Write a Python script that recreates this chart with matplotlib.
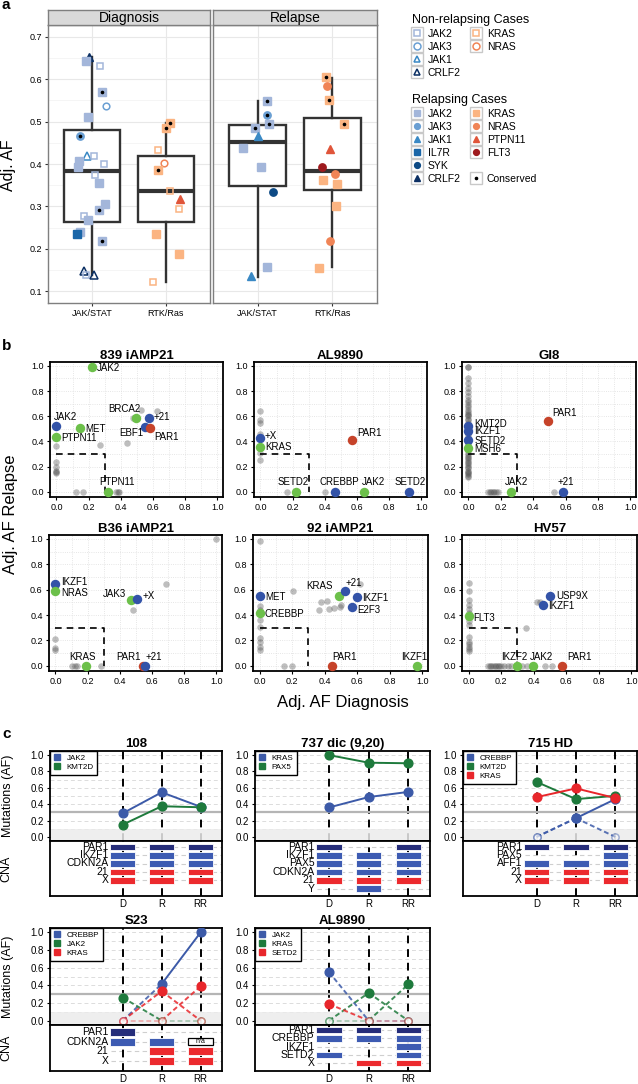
import matplotlib
matplotlib.use('Agg')
import matplotlib.pyplot as plt
from matplotlib.lines import Line2D
import numpy as np

plt.rcParams['font.family'] = ['Liberation Sans', 'DejaVu Sans']

W, H = 638, 1084

# ---------------- panel a data ----------------
a_facets = ['Diagnosis', 'Relapse']
a_groups = ['JAK/STAT', 'RTK/Ras']
# box statistics [facet][group]
a_whislo = [[0.137, 0.122], [0.134, 0.158]]
a_q1 = [[0.262, 0.264], [0.348, 0.339]]
a_med = [[0.384, 0.337], [0.452, 0.384]]
a_q3 = [[0.481, 0.419], [0.493, 0.508]]
a_whishi = [[0.652, 0.497], [0.548, 0.603]]

# (gene, relapsing case, conserved, adj. AF)
a_diag_jak = [('CRLF2', 1, 0, 0.652), ('JAK2', 1, 0, 0.644), ('JAK2', 0, 0, 0.631),
              ('JAK2', 1, 1, 0.570), ('JAK3', 0, 0, 0.537), ('JAK2', 1, 0, 0.512),
              ('JAK3', 1, 1, 0.467), ('JAK1', 0, 0, 0.420), ('JAK2', 0, 0, 0.419),
              ('JAK2', 1, 0, 0.407), ('JAK2', 1, 0, 0.394), ('JAK2', 0, 0, 0.400),
              ('JAK2', 0, 0, 0.373), ('JAK2', 1, 0, 0.354), ('JAK2', 1, 0, 0.306),
              ('JAK2', 1, 1, 0.291), ('JAK2', 0, 0, 0.277), ('JAK2', 1, 0, 0.268),
              ('JAK2', 1, 0, 0.239), ('IL7R', 1, 0, 0.234), ('JAK2', 1, 1, 0.218),
              ('CRLF2', 0, 0, 0.147), ('JAK2', 0, 0, 0.139), ('CRLF2', 0, 0, 0.138)]
a_diag_jak_jit = [-0.045, -0.09, 0.10, 0.14, 0.19, -0.06, -0.16, -0.07, 0.02, -0.18, -0.19, 0.16,
                  0.04, 0.09, 0.18, 0.09, -0.11, -0.06, -0.16, -0.20, 0.14, -0.11, -0.09, 0.03]
a_diag_ras = [('KRAS', 1, 1, 0.497), ('KRAS', 1, 1, 0.486), ('KRAS', 0, 0, 0.433),
              ('NRAS', 0, 0, 0.402), ('KRAS', 1, 1, 0.386), ('KRAS', 0, 0, 0.337),
              ('PTPN11', 1, 0, 0.317), ('KRAS', 0, 0, 0.293), ('KRAS', 1, 0, 0.235),
              ('KRAS', 1, 0, 0.188), ('KRAS', 0, 0, 0.121)]
a_diag_ras_jit = [0.06, 0.0, -0.11, -0.02, -0.10, 0.06, 0.19, 0.18, -0.14, 0.18, -0.17]
a_rel_jak = [('JAK2', 1, 1, 0.549), ('JAK3', 1, 1, 0.515), ('JAK2', 1, 1, 0.495),
             ('JAK2', 1, 1, 0.484), ('JAK1', 1, 0, 0.467), ('JAK2', 1, 0, 0.437),
             ('JAK2', 1, 0, 0.394), ('SYK', 1, 0, 0.333), ('JAK2', 1, 0, 0.156),
             ('JAK1', 1, 0, 0.135)]
a_rel_jak_jit = [0.13, 0.13, 0.15, -0.04, 0.01, -0.20, 0.04, 0.20, 0.12, -0.09]
a_rel_ras = [('KRAS', 1, 1, 0.605), ('NRAS', 1, 0, 0.583), ('KRAS', 1, 1, 0.552),
             ('KRAS', 1, 1, 0.494), ('PTPN11', 1, 0, 0.436), ('FLT3', 1, 0, 0.392),
             ('NRAS', 1, 0, 0.377), ('KRAS', 1, 0, 0.363), ('KRAS', 1, 0, 0.352),
             ('KRAS', 1, 0, 0.301), ('NRAS', 1, 0, 0.218), ('KRAS', 1, 0, 0.155)]
a_rel_ras_jit = [-0.09, -0.07, -0.05, 0.16, -0.03, -0.14, 0.04, -0.12, 0.06, 0.05, -0.03, -0.18]

gene_color = {'JAK2': '#a3b6da', 'JAK3': '#6a9fd3', 'JAK1': '#3a89c5', 'IL7R': '#1a66a8',
              'SYK': '#0d4a85', 'CRLF2': '#0b2f63', 'KRAS': '#fbb482', 'NRAS': '#f08456',
              'PTPN11': '#e0553a', 'FLT3': '#9e1a1e'}
gene_marker = {'JAK2': 's', 'JAK3': 'o', 'JAK1': '^', 'IL7R': 's', 'SYK': 'o', 'CRLF2': '^',
               'KRAS': 's', 'NRAS': 'o', 'PTPN11': '^', 'FLT3': 'o'}

# ---------------- panel b data ----------------
b_titles = ['839 iAMP21', 'AL9890', 'GI8', 'B36 iAMP21', '92 iAMP21', 'HV57']
b_genes = [
    ['JAK2', 'JAK2', 'MET', 'PTPN11', 'BRCA2', '+21', 'EBF1', 'PAR1', 'PTPN11'],
    ['+X', 'KRAS', 'PAR1', 'SETD2', 'CREBBP', 'JAK2', 'SETD2'],
    ['KMT2D', 'IKZF1', 'SETD2', 'MSH6', 'PAR1', 'JAK2', '+21'],
    ['IKZF1', 'NRAS', 'JAK3', '+X', 'KRAS', 'PAR1', '+21'],
    ['MET', 'CREBBP', 'KRAS', '+21', 'IKZF1', 'E2F3', 'PAR1', 'IKZF1'],
    ['USP9X', 'IKZF1', 'FLT3', 'IKZF2', 'JAK2', 'PAR1'],
]
b_kind = [
    ['SNV', 'CNA', 'SNV', 'SNV', 'SNV', 'CNA', 'CNA', 'PAR1', 'SNV'],
    ['CNA', 'SNV', 'PAR1', 'SNV', 'CNA', 'SNV', 'CNA'],
    ['CNA', 'CNA', 'CNA', 'SNV', 'PAR1', 'SNV', 'CNA'],
    ['CNA', 'SNV', 'SNV', 'CNA', 'SNV', 'PAR1', 'CNA'],
    ['CNA', 'SNV', 'SNV', 'CNA', 'CNA', 'CNA', 'PAR1', 'SNV'],
    ['CNA', 'CNA', 'SNV', 'SNV', 'SNV', 'PAR1'],
]
b_diag = [
    [0.218, 0.0, 0.145, 0.0, 0.497, 0.575, 0.553, 0.58, 0.318],
    [0.0, 0.0, 0.569, 0.223, 0.465, 0.642, 0.923],
    [0.0, 0.0, 0.0, 0.0, 0.489, 0.262, 0.581],
    [0.0, 0.0, 0.469, 0.506, 0.188, 0.546, 0.558],
    [0.0, 0.0, 0.487, 0.528, 0.60, 0.569, 0.445, 0.969],
    [0.503, 0.455, 0.0, 0.296, 0.395, 0.573],
]
b_rel = [
    [0.99, 0.52, 0.507, 0.435, 0.59, 0.59, 0.515, 0.504, 0.0],
    [0.427, 0.36, 0.414, 0.0, 0.0, 0.0, 0.0],
    [0.52, 0.48, 0.41, 0.35, 0.562, 0.0, 0.0],
    [0.642, 0.589, 0.517, 0.523, 0.0, 0.0, 0.0],
    [0.549, 0.416, 0.549, 0.589, 0.541, 0.464, 0.0, 0.0],
    [0.549, 0.483, 0.39, 0.0, 0.0, 0.0],
]
gi8_col = [0.99, 0.99, 0.90, 0.86, 0.82, 0.79, 0.76, 0.73, 0.71, 0.69, 0.67, 0.65, 0.63,
           0.62, 0.61, 0.60, 0.58, 0.57, 0.55, 0.53, 0.50, 0.47, 0.45, 0.43, 0.39, 0.37,
           0.33, 0.31, 0.29, 0.28, 0.27, 0.25, 0.24, 0.23, 0.21, 0.20, 0.19, 0.17, 0.16,
           0.15, 0.14, 0.13, 0.12]
hv57_col = [0.65, 0.59, 0.52, 0.48, 0.45, 0.42, 0.35, 0.32, 0.23, 0.19, 0.17, 0.15, 0.13, 0.12]
hv57_row = [0.12, 0.13, 0.14, 0.15, 0.16, 0.17, 0.18, 0.19, 0.20, 0.22, 0.24, 0.26, 0.33,
            0.36, 0.47, 0.51]
b_bg_diag = [
    [0, 0, 0, 0, 0, 0, 0.27, 0.44, 0.528, 0.623, 0.476, 0.12, 0.165, 0.38, 0.39, 0.37],
    [0, 0, 0, 0, 0, 0, 0.168, 0.402],
    [0] * len(gi8_col) + [0.12, 0.13, 0.14, 0.15, 0.16, 0.17, 0.18, 0.53],
    [0.996, 0.69, 0.479, 0, 0, 0, 0.104, 0.135, 0.12, 0.281],
    [0, 0.203, 0.379, 0.416, 0.365, 0.424, 0.457, 0.493, 0.617, 0, 0, 0, 0, 0, 0, 0, 0,
     0.151, 0.197, 0.50],
    [0] * len(hv57_col) + [0.42, 0.44, 0.352] + hv57_row,
]
b_bg_rel = [
    [0.367, 0.237, 0.195, 0.17, 0.16, 0.15, 0.375, 0.39, 0.646, 0.64, 0.585, 0, 0, 0, 0, 0],
    [0.644, 0.572, 0.55, 0.46, 0.31, 0.25, 0, 0],
    gi8_col + [0] * 8,
    [0.995, 0.642, 0.443, 0.212, 0.138, 0.125, 0, 0, 0, 0],
    [0.979, 0.589, 0.501, 0.512, 0.438, 0.448, 0.456, 0.464, 0.642, 0.47, 0.44, 0.363,
     0.31, 0.217, 0.19, 0.15, 0.125, 0, 0, 0.48],
    hv57_col + [0.5, 0.5, 0.297] + [0] * len(hv57_row),
]
# label placement (dx, dy, ha)
b_lab = [
    [(0.03, -0.01, 'left'), (-0.015, 0.075, 'left'), (0.037, -0.008, 'left'),
     (0.03, -0.008, 'left'), (0.025, 0.07, 'right'), (0.027, 0.005, 'left'),
     (-0.015, -0.048, 'right'), (0.025, -0.07, 'left'), (0.06, 0.077, 'center')],
    [(0.027, 0.02, 'left'), (0.03, 0.0, 'left'), (0.03, 0.053, 'left'),
     (-0.02, 0.075, 'center'), (0.025, 0.075, 'center'), (0.06, 0.075, 'center'),
     (0.005, 0.075, 'center')],
    [(0.035, 0.022, 'left'), (0.035, 0.0, 'left'), (0.035, -0.005, 'left'),
     (0.035, -0.012, 'left'), (0.03, 0.06, 'left'), (0.035, 0.075, 'center'),
     (0.02, 0.075, 'center')],
    [(0.037, 0.02, 'left'), (0.037, -0.013, 'left'), (-0.03, 0.05, 'right'),
     (0.035, 0.025, 'left'), (-0.02, 0.072, 'center'), (-0.095, 0.072, 'center'),
     (0.05, 0.072, 'center')],
    [(0.033, -0.01, 'left'), (0.033, -0.005, 'left'), (-0.035, 0.08, 'right'),
     (0.0, 0.06, 'left'), (0.03, -0.01, 'left'), (0.03, -0.025, 'left'),
     (0.075, 0.072, 'center'), (-0.02, 0.072, 'center')],
    [(0.035, 0.005, 'left'), (0.032, -0.013, 'left'), (0.03, -0.01, 'left'),
     (-0.015, 0.072, 'center'), (0.052, 0.072, 'center'), (0.11, 0.072, 'center')],
]
b_colors = {'SNV': '#6cc04a', 'CNA': '#3353a8', 'PAR1': '#c6432a'}

# ---------------- panel c data ----------------
c_titles = ['108', '737 dic (9,20)', '715 HD', 'S23', 'AL9890']
c_times = ['D', 'R', 'RR']
c_mut_genes = [['JAK2', 'KMT2D'], ['KRAS', 'PAX5'], ['CREBBP', 'CREBBP', 'KMT2D', 'KRAS'],
               ['CREBBP', 'JAK2', 'KRAS', 'KRAS'], ['JAK2', 'KRAS', 'KRAS', 'SETD2']]
c_mut_af = [
    [[0.289, 0.545, 0.368], [0.15, 0.375, 0.362]],
    [[0.36, 0.487, 0.55], [1.0, 0.907, 0.90]],
    [[0.0, 0.229, 0.462], [0.0, 0.229, 0.0], [0.672, 0.462, 0.502], [0.486, 0.593, 0.475]],
    [[0.0, 0.415, 1.0], [0.26, 0.0, 0.0], [0.0, 0.333, 0.0], [0.0, 0.0, 0.389]],
    [[0.549, 0.0, 0.0], [0.0, 0.314, 0.0], [0.0, 0.0, 0.41], [0.188, 0.0, 0.0]],
]
c_cna_rows = [['PAR1', 'IKZF1', 'CDKN2A', '21', 'X'],
              ['PAR1', 'IKZF1', 'PAX5', 'CDKN2A', '21', 'Y'],
              ['PAR1', 'PAX5', 'AFF1', '21', 'X'],
              ['PAR1', 'CDKN2A', '21', 'X'],
              ['PAR1', 'CREBBP', 'IKZF1', 'SETD2', 'X']]
# 0 none, 1 deletion, 2 PAR1 deletion, 3 gain, 4 n/a
c_cna_state = [
    [[2, 2, 2], [1, 1, 1], [1, 1, 1], [3, 3, 3], [3, 3, 3]],
    [[2, 0, 2], [1, 1, 1], [1, 1, 1], [1, 1, 1], [3, 3, 3], [0, 1, 0]],
    [[2, 2, 2], [0, 0, 1], [1, 1, 1], [3, 3, 3], [3, 3, 3]],
    [[2, 0, 0], [1, 1, 4], [0, 3, 3], [0, 3, 3]],
    [[2, 2, 2], [1, 1, 1], [0, 0, 1], [1, 0, 1], [0, 3, 3]],
]
c_pal = ['#3c5aa8', '#1e7a3c', '#e8262b']
cna_col = {1: '#3d5bb2', 2: '#252d7a', 3: '#ec2a2e'}

fig = plt.figure(figsize=(W / 100, H / 100), dpi=100)


def add_ax(x0, y0, x1, y1):
    return fig.add_axes([x0 / W, 1 - y1 / H, (x1 - x0) / W, (y1 - y0) / H])


# ================= panel a =================
a_points = [[a_diag_jak, a_diag_ras], [a_rel_jak, a_rel_ras]]
a_jit = [[a_diag_jak_jit, a_diag_ras_jit], [a_rel_jak_jit, a_rel_ras_jit]]
for fi, facet in enumerate(a_facets):
    x0, x1 = [(48, 210), (213, 377)][fi]
    ax = add_ax(x0, 25, x1, 303)
    sax = add_ax(x0, 10, x1, 25)
    sax.set_facecolor('#d9d9d9')
    sax.set_xticks([]); sax.set_yticks([])
    for s in sax.spines.values():
        s.set_color('#7f7f7f'); s.set_linewidth(1.0)
    sax.text(0.5, 0.45, facet, ha='center', va='center', fontsize=10, transform=sax.transAxes)

    stats = [dict(whislo=a_whislo[fi][g], q1=a_q1[fi][g], med=a_med[fi][g], q3=a_q3[fi][g],
                  whishi=a_whishi[fi][g], fliers=[]) for g in range(2)]
    ax.bxp(stats, positions=[1, 2], widths=0.76, showcaps=False, showfliers=False,
           patch_artist=True,
           boxprops=dict(facecolor='white', edgecolor='#333333', lw=1.7),
           medianprops=dict(color='#333333', lw=3.0),
           whiskerprops=dict(color='#333333', lw=1.7))
    for g in range(2):
        for (gene, rel, cons, af), j in zip(a_points[fi][g], a_jit[fi][g]):
            c = gene_color[gene]
            m = gene_marker[gene]
            ms = 6.3 if m == '^' else 5.3
            if rel:
                ax.plot(g + 1 + j, af, marker=m, ms=ms, mfc=c, mec=c, ls='none', zorder=3)
            else:
                ax.plot(g + 1 + j, af, marker=m, ms=ms - 0.5, mfc='none', mec=c, mew=1.1,
                        ls='none', zorder=3)
            if cons:
                ax.plot(g + 1 + j, af, marker='o', ms=1.6, color='black', ls='none', zorder=4)

    ax.set_xlim(0.4, 2.6)
    ax.set_ylim(0.072, 0.728)
    ax.set_xticks([1, 2])
    ax.set_xticklabels(a_groups)
    ax.set_yticks(np.arange(0.1, 0.75, 0.1))
    ax.set_yticks(np.arange(0.15, 0.7, 0.1), minor=True)
    ax.grid(True, which='major', color='#e8e8e8', lw=0.8)
    ax.grid(True, which='minor', axis='y', color='#f2f2f2', lw=0.5)
    ax.set_axisbelow(True)
    for s in ax.spines.values():
        s.set_color('#7f7f7f'); s.set_linewidth(1.0)
    ax.tick_params(which='minor', length=0)
    ax.tick_params(labelsize=6.5, length=2.5, color='#333333', pad=2)
    if fi == 0:
        ax.set_yticklabels(['%.1f' % v for v in np.arange(0.1, 0.75, 0.1)])
    else:
        ax.tick_params(axis='y', left=False, labelleft=False)

fig.text(9 / W, 1 - 165 / H, 'Adj. AF', rotation=90, ha='center', va='center', fontsize=11.5)
fig.text(2 / W, 1 - 5 / H, 'a', fontsize=11, fontweight='bold', ha='left', va='center')


def key(gene, rel):
    c = gene_color[gene]
    m = gene_marker[gene]
    bg = Line2D([], [], marker='s', ms=8.5, mfc='white', mec='#c8c8c8', mew=1.0, ls='none')
    if rel:
        mk = Line2D([], [], marker=m, ms=4.2, mfc=c, mec=c, ls='none')
    else:
        mk = Line2D([], [], marker=m, ms=5, mfc='none', mec=c, mew=1.1, ls='none')
    return (bg, mk)


blank = Line2D([], [], ls='none')
nr_genes = ['JAK2', 'JAK3', 'JAK1', 'CRLF2', 'KRAS', 'NRAS']
nr_handles = [key(g, 0) for g in nr_genes] + [blank, blank]
nr_labels = nr_genes + ['', '']
leg_kw = dict(ncol=2, loc='upper left', frameon=False, fontsize=7.5, title_fontsize=9,
              alignment='left', handletextpad=0.5, columnspacing=1.0, labelspacing=0.28,
              handlelength=1.0, borderpad=0.0)
fig.legend(nr_handles, nr_labels, bbox_to_anchor=(407 / W, 1 - 9 / H),
           title='Non-relapsing Cases', **leg_kw)

rel_genes_l = ['JAK2', 'JAK3', 'JAK1', 'IL7R', 'SYK', 'CRLF2']
rel_genes_r = ['KRAS', 'NRAS', 'PTPN11', 'FLT3']
cons_key = (Line2D([], [], marker='s', ms=8.5, mfc='white', mec='#c8c8c8', mew=1.0, ls='none'),
            Line2D([], [], marker='o', ms=1.6, color='black', ls='none'))
rel_handles = [key(g, 1) for g in rel_genes_l] + [key(g, 1) for g in rel_genes_r] + [blank, cons_key]
rel_labels = rel_genes_l + rel_genes_r + ['', 'Conserved']
fig.legend(rel_handles, rel_labels, bbox_to_anchor=(407 / W, 1 - 89 / H),
           title='Relapsing Cases', **leg_kw)

# ================= panel b =================
b_boxes = [(50, 362, 223, 497), (254, 362, 427, 497), (462, 362, 636, 497),
           (49, 535, 222, 671), (253, 535, 428, 671), (462, 535, 637, 671)]
for i, title in enumerate(b_titles):
    ax = add_ax(*b_boxes[i])
    ax.scatter(b_bg_diag[i], b_bg_rel[i], s=22, color='#555555', alpha=0.38, lw=0, zorder=2)
    ax.plot([0, 0.3, 0.3], [0.3, 0.3, 0], color='black', ls=(0, (4, 3)), lw=1.2, zorder=3)
    for gene, kind, dx, ry, lab in zip(b_genes[i], b_kind[i], b_diag[i], b_rel[i], b_lab[i]):
        ax.plot(dx, ry, 'o', ms=6.8, color=b_colors[kind], mec='none', zorder=4)
        ax.text(dx + lab[0], ry + lab[1], gene, ha=lab[2], va='center', fontsize=7, zorder=5)
    ax.set_xlim(-0.04, 1.035)
    ax.set_ylim(-0.04, 1.03)
    ticks = [0.0, 0.2, 0.4, 0.6, 0.8, 1.0]
    ax.set_xticks(ticks); ax.set_yticks(ticks)
    ax.set_xticklabels(['%.1f' % t for t in ticks])
    ax.set_yticklabels(['%.1f' % t for t in ticks])
    ax.set_xticks(np.arange(0.1, 1.0, 0.2), minor=True)
    ax.set_yticks(np.arange(0.1, 1.0, 0.2), minor=True)
    ax.grid(True, which='both', color='#dedede', ls=':', lw=0.6)
    ax.set_axisbelow(True)
    for s in ax.spines.values():
        s.set_linewidth(1.3)
    ax.tick_params(labelsize=6.5, length=2.5, pad=2)
    ax.tick_params(which='minor', length=0)
    ax.set_title(title, fontsize=9.5, fontweight='bold', pad=2)

fig.text(343 / W, 1 - 702 / H, 'Adj. AF Diagnosis', ha='center', va='center', fontsize=12)
fig.text(11 / W, 1 - 514 / H, 'Adj. AF Relapse', rotation=90, ha='center', va='center',
         fontsize=12)
fig.text(2 / W, 1 - 346 / H, 'b', fontsize=11, fontweight='bold', ha='left', va='center')

# ================= panel c =================
c_cols = [(50, 222), (255, 430), (463, 637)]
c_rows = [(751, 841, 896), (928, 1025, 1071)]
c_cna_ylim = [(5.9, -0.7), (5.9, -0.7), (5.9, -0.7), (4.07, -0.75), (4.95, -0.6)]
tx = [1, 2, 3]
vdash = (0, (4, 3))
for i, title in enumerate(c_titles):
    row, col = divmod(i, 3)
    x0, x1 = c_cols[col]
    ytop, ymid, ybot = c_rows[row]
    ax = add_ax(x0, ytop, x1, ymid)
    cax = add_ax(x0, ymid, x1, ybot)

    # mutation panel
    ax.axhspan(-0.05, 0.1, color='#ebebeb', alpha=0.85, lw=0, zorder=1.5)
    for v in np.arange(0.1, 1.05, 0.1):
        ax.axhline(v, color='#dcdcdc', ls=(0, (4, 3)), lw=0.7, zorder=0.5)
    ax.axhline(0.3, color='#b5b5b5', lw=1.6, zorder=1.6)
    for t in tx:
        ax.axvline(t, color='black', ls=vdash, lw=1.4, zorder=1)
    uniq = sorted(set(c_mut_genes[i]))
    for gene, afs in zip(c_mut_genes[i], c_mut_af[i]):
        colr = c_pal[uniq.index(gene)]
        for k in range(2):
            a0, a1 = afs[k], afs[k + 1]
            if a0 > 0 and a1 > 0:
                ls, al = '-', 1.0
            elif a0 == 0 and a1 == 0:
                ls, al = (0, (2.5, 1.5)), 0.3
            else:
                ls, al = (0, (2.5, 1.5)), 0.85
            ax.plot([tx[k], tx[k + 1]], [a0, a1], color=colr, ls=ls, lw=1.4, alpha=al, zorder=3)
        for t, a in zip(tx, afs):
            if a > 0:
                ax.plot(t, a, 'o', ms=6.3, color=colr, zorder=4)
            else:
                ax.plot(t, a, 'o', ms=5.2, mfc='white', mec=colr, mew=1.1, alpha=0.45, zorder=4)
    ax.set_xlim(-0.87, 3.55)
    ax.set_ylim(-0.05, 1.05)
    ax.set_xticks([])
    ax.set_yticks(np.arange(0, 1.05, 0.2))
    ax.set_yticklabels(['%.1f' % v for v in np.arange(0, 1.05, 0.2)])
    ax.tick_params(labelsize=7, length=2.5, pad=2)
    for s in ax.spines.values():
        s.set_linewidth(1.3)
    handles = [Line2D([], [], marker='s', ms=5, color=c_pal[k], ls='none') for k in range(len(uniq))]
    leg = ax.legend(handles, uniq, loc='upper left', fontsize=5.8, frameon=True, fancybox=False,
                    edgecolor='black', framealpha=1, borderaxespad=0, handlelength=0.8,
                    handletextpad=0.8, labelspacing=0.15, borderpad=0.45)
    leg.get_frame().set_linewidth(1.0)
    leg.set_zorder(6)
    ax.set_title(title, fontsize=9.5, fontweight='bold', pad=3)

    # CNA panel
    rows = c_cna_rows[i]
    for r, name in enumerate(rows):
        cax.plot([0.7, 3.55], [r, r], color='#cfcfcf', ls=(0, (4, 3)), lw=0.8, zorder=0.5)
        cax.text(0.63, r, name, ha='right', va='center', fontsize=7.5, zorder=4)
        for t in range(3):
            s = c_cna_state[i][r][t]
            if s in cna_col:
                cax.barh(r, 0.64, left=tx[t] - 0.32, height=0.8, color=cna_col[s],
                         edgecolor='white', lw=0.6, zorder=3)
            elif s == 4:
                cax.barh(r, 0.64, left=tx[t] - 0.32, height=0.72, color='white',
                         edgecolor='black', lw=0.9, zorder=3)
                cax.text(tx[t], r, 'n/a', ha='center', va='center', fontsize=5, zorder=4)
    for t in tx:
        cax.axvline(t, color='black', ls=vdash, lw=1.4, zorder=1)
    cax.set_xlim(-0.87, 3.55)
    cax.set_ylim(*c_cna_ylim[i])
    cax.set_yticks([])
    cax.set_xticks(tx)
    cax.set_xticklabels(c_times)
    cax.tick_params(labelsize=7, length=0, pad=2)
    for s in cax.spines.values():
        s.set_linewidth(1.3)
    if col == 0:
        ax.set_ylabel('Mutations (AF)', fontsize=9)
        ax.yaxis.set_label_coords((14 - x0) / (x1 - x0), 0.5)
        cax.set_ylabel('CNA', fontsize=9)
        cax.yaxis.set_label_coords((12 - x0) / (x1 - x0), 0.5)

fig.text(2 / W, 1 - 734 / H, 'c', fontsize=11, fontweight='bold', ha='left', va='center')

fig.savefig('out.png', dpi=100)
